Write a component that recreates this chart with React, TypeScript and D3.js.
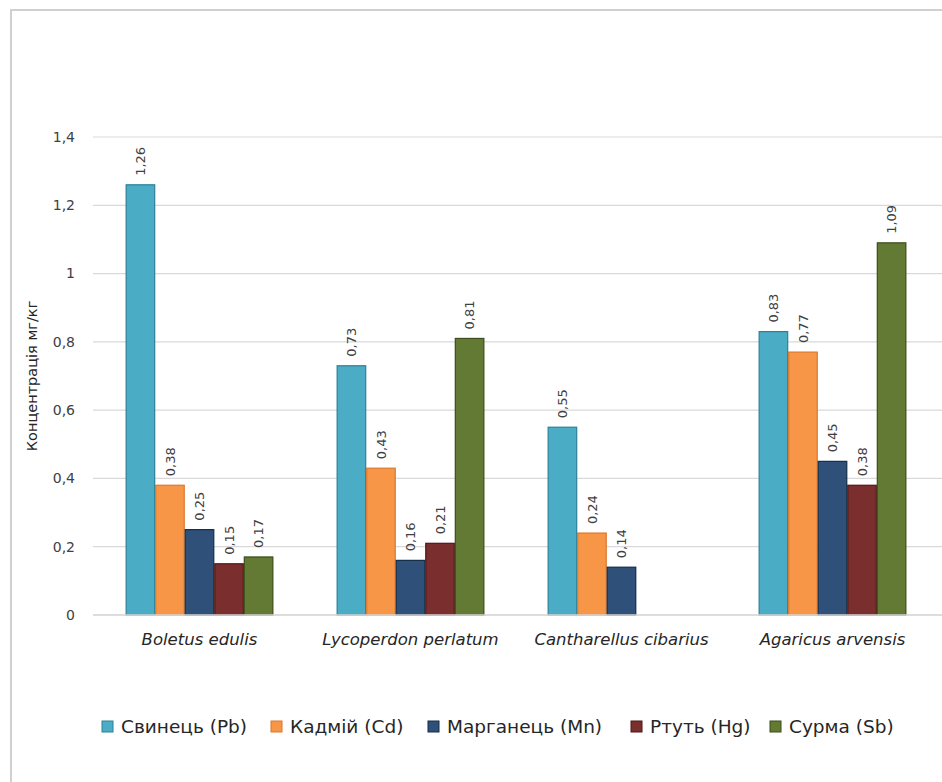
import React, { useEffect, useRef } from "react";
import * as d3 from "d3";

const categories = ["Boletus edulis", "Lycoperdon perlatum", "Cantharellus cibarius", "Agaricus arvensis"];
const seriesNames = ["Свинець (Pb)", "Кадмій (Cd)", "Марганець (Mn)", "Ртуть (Hg)", "Сурма (Sb)"];
const pb = [1.26, 0.73, 0.55, 0.83];
const cd = [0.38, 0.43, 0.24, 0.77];
const mn = [0.25, 0.16, 0.14, 0.45];
const hg = [0.15, 0.21, null, 0.38];
const sb = [0.17, 0.81, null, 1.09];
const yTicks = [0, 0.2, 0.4, 0.6, 0.8, 1, 1.2, 1.4];
const fills = ["#4BACC6", "#F79646", "#2F5078", "#7A2F2E", "#627A34"];
const strokes = ["#2A8199", "#D9782E", "#142B4A", "#4E1715", "#3B4D18"];

const fmt = (v: number) => String(v).replace(".", ",");

export default function App() {
  const ref = useRef<SVGSVGElement | null>(null);
  useEffect(() => {
    const svg = d3.select(ref.current);
    svg.selectAll("*").remove();
    const font = "'DejaVu Sans', sans-serif";
    const series = [pb, cd, mn, hg, sb];

    svg.append("rect").attr("x", 11).attr("y", 10).attr("width", 1000).attr("height", 1000)
      .attr("fill", "white").attr("stroke", "#D0D0D0").attr("stroke-width", 2);

    const x0 = d3.scaleBand<string>().domain(categories).range([94, 938]).paddingInner(0.3).paddingOuter(0.15);
    const x1 = d3.scaleBand<number>().domain(d3.range(seriesNames.length)).range([0, x0.bandwidth()]);
    const y = d3.scaleLinear().domain([0, 1.4]).range([615, 137]);

    const g = svg.append("g");
    g.selectAll("line.grid").data(yTicks).join("line")
      .attr("x1", 93).attr("x2", 942).attr("y1", (d) => y(d)).attr("y2", (d) => y(d))
      .attr("stroke", "#D9D9D9").attr("stroke-width", 1.2);

    g.selectAll("text.tick").data(yTicks).join("text")
      .attr("x", 75).attr("y", (d) => y(d)).attr("dy", "0.35em").attr("text-anchor", "end")
      .attr("font-family", font).attr("font-size", 14).attr("fill", "#404040")
      .text((d) => fmt(d));

    svg.append("text").attr("transform", `translate(37,376) rotate(-90)`).attr("text-anchor", "middle")
      .attr("font-family", font).attr("font-size", 14.5).attr("fill", "#262626").text("Концентрація мг/кг");

    series.forEach((vals, si) => {
      vals.forEach((v, ci) => {
        if (v == null) return;
        const bx = (x0(categories[ci]) as number) + (x1(si) as number);
        const bw = x1.bandwidth();
        g.append("rect").attr("x", bx + 0.5).attr("y", y(v)).attr("width", bw - 1).attr("height", y(0) - y(v))
          .attr("fill", fills[si]).attr("stroke", strokes[si]).attr("stroke-width", 1.2);
        g.append("text").attr("transform", `translate(${bx + bw / 2},${y(v) - 9}) rotate(-90)`)
          .attr("dy", "0.35em").attr("text-anchor", "start")
          .attr("font-family", font).attr("font-size", 13).attr("fill", "#404040").text(fmt(v));
      });
    });

    g.append("line").attr("x1", 93).attr("x2", 942).attr("y1", y(0)).attr("y2", y(0))
      .attr("stroke", "#D9D9D9").attr("stroke-width", 1.5);

    g.selectAll("text.cat").data(categories).join("text")
      .attr("x", (d) => (x0(d) as number) + x0.bandwidth() / 2).attr("y", 645)
      .attr("text-anchor", "middle").attr("font-family", font).attr("font-style", "italic")
      .attr("font-size", 16.5).attr("fill", "#262626").text((d) => d);

    const legendX = [102, 271, 428, 631, 770];
    seriesNames.forEach((name, i) => {
      svg.append("rect").attr("x", legendX[i]).attr("y", 721).attr("width", 11).attr("height", 11)
        .attr("fill", fills[i]).attr("stroke", strokes[i]).attr("stroke-width", 1);
      svg.append("text").attr("x", legendX[i] + 19).attr("y", 727).attr("dy", "0.35em")
        .attr("font-family", font).attr("font-size", 18.5).attr("fill", "#262626").text(name);
    });
  }, []);
  return (
    <svg ref={ref} width={942} height={782} style={{ position: "absolute", left: 0, top: 0, background: "white" }} />
  );
}
